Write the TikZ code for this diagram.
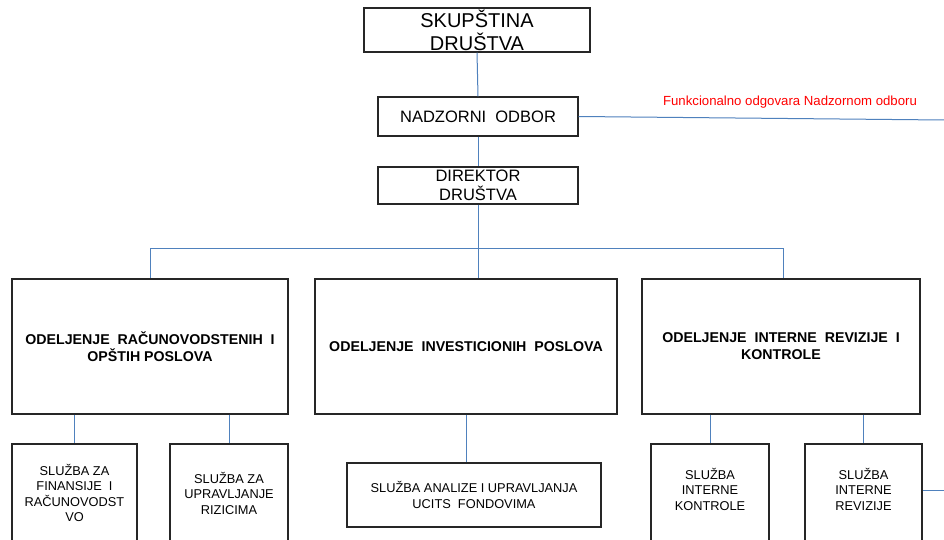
\documentclass[tikz,border=0pt]{standalone}
\usepackage{fontspec}
\setmainfont{Liberation Sans}
\begin{document}
\begin{tikzpicture}[x=1pt,y=-1pt,
  box/.style={draw=black!85,line width=1.2pt,fill=white,inner sep=0pt,align=center},
  lnk/.style={draw={rgb,255:red,79;green,129;blue,189},line width=1pt},
  dept/.style={font=\fontsize{14.2}{17}\selectfont\bfseries,align=center},
  sub/.style={font=\fontsize{12.8}{15.5}\selectfont,align=center}]
\useasboundingbox (0,0) rectangle (944,540);
\clip (0,0) rectangle (944,540);
\fill[white] (0,0) rectangle (944,540);
% top boxes
\node[box,minimum width=226pt,minimum height=44pt,font=\fontsize{20}{23}\selectfont] (skup) at (477,30) {SKUPŠTINA\\DRUŠTVA};
\node[box,minimum width=200pt,minimum height=39pt,font=\fontsize{16.5}{19}\selectfont] (nad) at (478,116.5) {NADZORNI\ \ ODBOR};
\node[box,minimum width=200pt,minimum height=37pt,font=\fontsize{16.5}{19}\selectfont] (dir) at (478,185.5) {DIREKTOR\\DRUŠTVA};
\node[text={rgb,255:red,255;green,0;blue,0},font=\fontsize{13.2}{15}\selectfont] (note) at (790,102) {Funkcionalno odgovara Nadzornom odboru};
% departments
\node[box,minimum width=276pt,minimum height=135pt] (d1) at (150,346.5) {};
\node[box,minimum width=302pt,minimum height=135pt] (d2) at (466,346.5) {};
\node[box,minimum width=278pt,minimum height=135pt] (d3) at (781,346.5) {};
\node[dept] (t1) at (150,346.5) {ODELJENJE\ \ RAČUNOVODSTENIH\ \ I\\OPŠTIH POSLOVA};
\node[dept] (t2) at (466,346.5) {ODELJENJE\ \ INVESTICIONIH\ \ POSLOVA};
\node[dept] (t3) at (781,346.5) {ODELJENJE\ \ INTERNE\ \ REVIZIJE\ \ I\\KONTROLE};
% sub-units
\node[box,minimum width=125pt,minimum height=116pt] (s1) at (74.5,502) {};
\node[box,minimum width=118pt,minimum height=116pt] (s2) at (229,502) {};
\node[box,minimum width=254pt,minimum height=64pt] (s3) at (474,495) {};
\node[box,minimum width=118pt,minimum height=116pt] (s4) at (710,502) {};
\node[box,minimum width=117pt,minimum height=116pt] (s5) at (863.5,502) {};
\node[sub] (u1) at (74.5,493) {SLUŽBA ZA\\FINANSIJE\ \ I\\RAČUNOVODST\\VO};
\node[sub] (u2) at (229,493) {SLUŽBA ZA\\UPRAVLJANJE\\RIZICIMA};
\node[sub] (u3) at (474,495) {SLUŽBA ANALIZE I UPRAVLJANJA\\UCITS\ \ FONDOVIMA};
\node[sub] (u4) at (710,489) {SLUŽBA\\INTERNE\\KONTROLE};
\node[sub] (u5) at (863.5,489) {SLUŽBA\\INTERNE\\REVIZIJE};
% connectors
\coordinate (busL) at (150,248);
\coordinate (busR) at (783,248);
\coordinate (rtop) at (944,120);
\coordinate (rbot) at (944,490);
\draw[lnk] (skup.south) -- (nad.north);
\draw[lnk] (nad.south) -- (dir.north);
\draw[lnk] (dir.south) -- (dir.south |- busL);
\draw[lnk] (busL) -- (busR);
\draw[lnk] (busL) -- (busL |- d1.north);
\draw[lnk] (dir.south |- busL) -- (dir.south |- d2.north);
\draw[lnk] (busR) -- (busR |- d3.north);
\draw[lnk] (nad.east) -- (rtop);
\draw[lnk] (s1.north |- d1.south) -- (s1.north);
\draw[lnk] (s2.north |- d1.south) -- (s2.north);
\draw[lnk] (d2.south) -- (d2.south |- s3.north);
\draw[lnk] (s4.north |- d3.south) -- (s4.north);
\draw[lnk] (s5.north |- d3.south) -- (s5.north);
\draw[lnk] (rbot -| s5.east) -- (rbot);
\end{tikzpicture}
\end{document}
